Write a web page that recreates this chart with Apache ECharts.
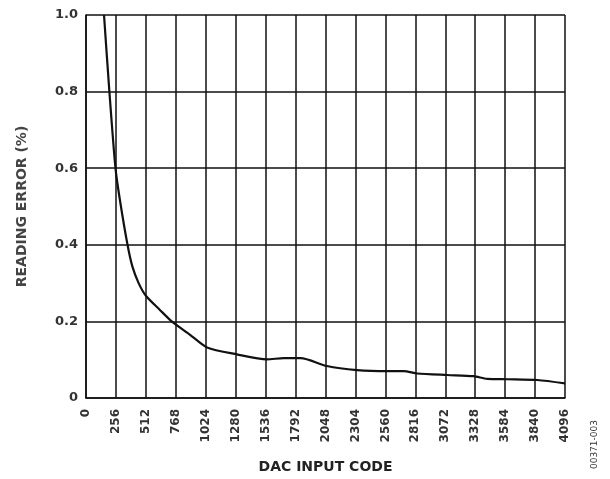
<!DOCTYPE html>
<html><head><meta charset="utf-8">
<script src="https://cdn.jsdelivr.net/npm/echarts@6/dist/echarts.min.js"></script>
<style>html,body{margin:0;padding:0;background:#fff}#c{width:610px;height:479px}</style>
</head><body><div id="c"></div>
<script>
const xTicks = [0,256,512,768,1024,1280,1536,1792,2048,2304,2560,2816,3072,3328,3584,3840,4096];
const yTicks = [0,0.2,0.4,0.6,0.8,1.0];
const codes = [154,200,252,290,355,397,450,512,632,733,890,1035,1290,1547,1690,1835,2060,2317,2574,2717,2832,3089,3314,3431,3602,3859,4096];
const errors = [1.0,0.8,0.6,0.517,0.4,0.343,0.3,0.267,0.23,0.2,0.165,0.132,0.114,0.101,0.104,0.104,0.0835,0.073,0.070,0.070,0.064,0.060,0.057,0.050,0.049,0.047,0.038];
const font = 'DejaVu Sans, sans-serif';
const chart = echarts.init(document.getElementById('c'));
chart.setOption({
  animation:false,
  grid:{left:86,right:45,top:15,bottom:81},
  xAxis:{type:'value',min:0,max:4096,interval:256,
    name:'DAC INPUT CODE',nameLocation:'middle',nameGap:62,
    nameTextStyle:{fontFamily:font,fontSize:14,fontWeight:'bold',color:'#222'},
    axisLine:{lineStyle:{color:'#111',width:1.5}},axisTick:{show:false},
    splitLine:{show:true,lineStyle:{color:'#111',width:1.5}},
    axisLabel:{rotate:90,fontFamily:font,fontSize:12,fontWeight:'bold',color:'#333',margin:11,
      formatter:v=>String(v)}},
  yAxis:{type:'value',min:0,max:1.0,interval:0.2,
    name:'READING ERROR (%)',nameLocation:'middle',nameGap:57,
    nameTextStyle:{fontFamily:font,fontSize:14,fontWeight:'bold',color:'#444'},
    axisLine:{show:true,lineStyle:{color:'#111',width:1.5}},axisTick:{show:false},
    splitLine:{show:true,lineStyle:{color:'#111',width:1.5}},
    axisLabel:{fontFamily:font,fontSize:13,fontWeight:'bold',color:'#333',margin:8,
      formatter:v=>v===0?'0':v.toFixed(1)}},
  series:[{type:'line',data:codes.map((c,i)=>[c,errors[i]]),smooth:0.25,showSymbol:false,
    lineStyle:{color:'#111',width:2.2}}],
  graphic:[{type:'text',left:590,top:420,rotation:Math.PI/2,
    style:{text:'00371-003',fontFamily:font,fontSize:9,fill:'#333'}}]
});
</script></body></html>
